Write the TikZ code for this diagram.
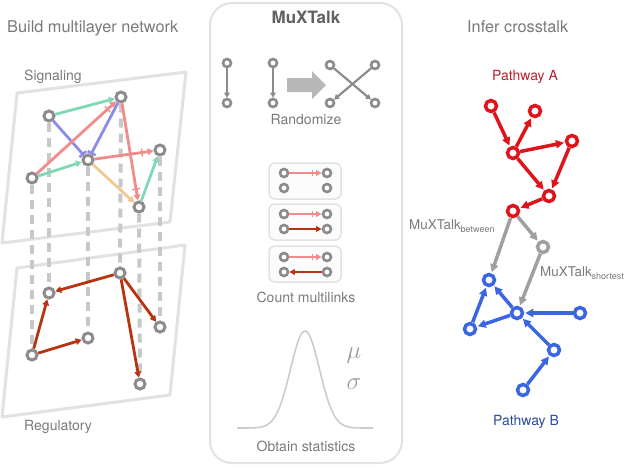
\documentclass[tikz,border=0pt]{standalone}
\usepackage{fontspec}
\setmainfont{TeX Gyre Heros}
\usetikzlibrary{arrows.meta}
\definecolor{txtgray}{HTML}{7A7A7A}
\definecolor{ngray}{HTML}{8C8C8C}
\definecolor{plane}{HTML}{E2E2E2}
\definecolor{dashgray}{HTML}{C8C8C8}
\definecolor{sgreen}{HTML}{80D8B4}
\definecolor{sblue}{HTML}{8C8CE8}
\definecolor{spink}{HTML}{F08C8C}
\definecolor{sorange}{HTML}{F5C892}
\definecolor{regred}{HTML}{B8330F}
\definecolor{pred}{HTML}{E0121A}
\definecolor{pblue}{HTML}{3A66E0}
\definecolor{predtxt}{HTML}{B8222E}
\definecolor{pbluetxt}{HTML}{2A4C9E}
\definecolor{cgray}{HTML}{A0A0A0}
\begin{document}
\begin{tikzpicture}[x=1pt,y=-1pt,
  gnode/.style={circle,draw=ngray,line width=3pt,fill=white,minimum size=10pt,inner sep=0pt},
  snode/.style={circle,draw=ngray,line width=2.6pt,fill=white,minimum size=8pt,inner sep=0pt},
  rnode/.style={circle,draw=pred,line width=3.5pt,fill=white,minimum size=11pt,inner sep=0pt},
  bnode/.style={circle,draw=pblue,line width=3.5pt,fill=white,minimum size=11pt,inner sep=0pt},
  xnode/.style={circle,draw=cgray,line width=3.5pt,fill=white,minimum size=11pt,inner sep=0pt},
  vlink/.style={draw=dashgray,line width=4pt,dash pattern=on 9pt off 6pt},
  act/.style={line width=2.8pt,-{Triangle[length=6pt,width=6.5pt]}},
  inh/.style={line width=2.8pt,-{Bar[width=9pt,line width=2.5pt]}},
  pk/.style={draw=spink,line width=2.8pt,-{Bar[width=8pt,line width=1.4pt,sep=5pt]Triangle[length=6pt,width=6.5pt]}},
  reg/.style={draw=regred,line width=2.8pt,-{Triangle[length=6pt,width=6.5pt]}},
  big/.style={line width=3.5pt,shorten >=1pt,-{Triangle[length=8pt,width=8pt]}},
  lbl/.style={text=txtgray,font=\fontsize{14}{16}\selectfont,inner sep=0pt},
  ttl/.style={text=txtgray,font=\fontsize{16.3}{18}\selectfont,inner sep=0pt},
  plane/.style={draw=plane,line width=3pt,line join=round},
  mbox/.style={draw=plane,line width=1.5pt,fill=black!1,rounded corners=6pt},
  sarr/.style={draw=ngray,fill=ngray,line width=2.2pt,-{Triangle[length=5pt,width=5.5pt]}},
  mpk/.style={draw=spink,fill=spink,line width=2.4pt,-{Bar[width=6pt,line width=1pt,sep=3pt]Triangle[length=5.5pt,width=5.5pt]}},
  mrg/.style={draw=regred,fill=regred,line width=2.4pt,-{Triangle[length=5.5pt,width=5.5pt]}}
]
\useasboundingbox (0,0) rectangle (630,467);

% ---------- titles ----------
\node[ttl,anchor=base west] (t1) at (7,32) {Build multilayer network};
\node[ttl,anchor=base west] (t3) at (467,32) {Infer crosstalk};

% ---------- left panel: planes ----------
\draw[plane] (17,93) -- (186,72) -- (170,222) -- (2,243) -- cycle;
\draw[plane] (17,268) -- (185,245) -- (170,395) -- (2,417) -- cycle;
\node[lbl,anchor=base west] (sig) at (24,80) {Signaling};
\node[lbl,anchor=base west] (regl) at (24,430) {Regulatory};

% signaling nodes
\node[gnode] (n1) at (49,116) {};
\node[gnode] (n2) at (121,97) {};
\node[gnode] (n3) at (88,160) {};
\node[gnode] (n4) at (160,150) {};
\node[gnode] (n5) at (32,178) {};
\node[gnode] (n6) at (139,207) {};
% regulatory nodes
\node[gnode] (r1) at (49,293) {};
\node[gnode] (r2) at (120,273) {};
\node[gnode] (r3) at (88,338) {};
\node[gnode] (r4) at (160,327) {};
\node[gnode] (r5) at (32,355) {};
\node[gnode] (r6) at (140,384) {};

% inter-layer links
\draw[vlink] (n1) -- (r1);
\draw[vlink] (n2) -- (r2);
\draw[vlink] (n3) -- (r3);
\draw[vlink] (n4) -- (r4);
\draw[vlink] (n5) -- (r5);
\draw[vlink] (n6) -- (r6);

% signaling edges
\draw[act,draw=sgreen,fill=sgreen] (n1) -- (n2);
\draw[inh,draw=sblue] (n1) -- (n3);
\draw[inh,draw=sblue] (n2) -- (n3);
\draw[pk,fill=spink] (n5) -- (n2);
\draw[act,draw=sgreen,fill=sgreen] (n5) -- (n3);
\draw[pk,fill=spink] (n3) -- (n4);
\draw[pk,fill=spink] (n2) -- (n6);
\draw[act,draw=sorange,fill=sorange] (n3) -- (n6);
\draw[act,draw=sgreen,fill=sgreen] (n6) -- (n4);

% regulatory edges
\draw[reg,fill=regred] (r2) -- (r1);
\draw[reg,fill=regred] (r5) -- (r1);
\draw[reg,fill=regred] (r5) -- (r3);
\draw[reg,fill=regred] (r2) -- (r6);
\draw[reg,fill=regred] (r2) -- (r4);

% ---------- centre panel ----------
\draw[draw=plane,line width=2pt,rounded corners=22pt] (210,3) rectangle (402,463);
\node[text=black!62,font=\bfseries\fontsize{17}{19}\selectfont,anchor=base,inner sep=0pt] (mx) at (306,23) {MuXTalk};

% randomize
\node[snode] (a1) at (227,63) {};
\node[snode] (a2) at (227,103) {};
\node[snode] (a3) at (273,63) {};
\node[snode] (a4) at (273,103) {};
\draw[sarr] (a1) -- (a2);
\draw[sarr] (a3) -- (a4);
\fill[black!28] (287,78) -- (312,78) -- (312,71) -- (326,85) -- (312,99) -- (312,92) -- (287,92) -- cycle;
\node[snode] (x1) at (330,65) {};
\node[snode] (x2) at (375,65) {};
\node[snode] (x3) at (330,103) {};
\node[snode] (x4) at (375,103) {};
\draw[sarr] (x1) -- (x4);
\draw[sarr] (x2) -- (x3);
\node[lbl,anchor=base] (rnd) at (306,124) {Randomize};

% count multilinks
\draw[mbox] (269,163) rectangle (341,199);
\draw[mbox] (269,204) rectangle (341,240);
\draw[mbox] (269,246) rectangle (341,282);
\node[snode] (c1) at (284,173) {};
\node[snode] (c2) at (327,173) {};
\node[snode] (c3) at (284,188) {};
\node[snode] (c4) at (327,188) {};
\node[snode] (c5) at (284,214) {};
\node[snode] (c6) at (327,214) {};
\node[snode] (c7) at (284,229) {};
\node[snode] (c8) at (327,229) {};
\node[snode] (c9) at (284,257) {};
\node[snode] (c10) at (327,257) {};
\node[snode] (c11) at (284,272) {};
\node[snode] (c12) at (327,272) {};
\draw[mpk] (c1) -- (c2);
\draw[mpk] (c5) -- (c6);
\draw[mrg] (c7) -- (c8);
\draw[mpk] (c9) -- (c10);
\draw[mrg] (c12) -- (c11);
\node[lbl,anchor=base] (cml) at (306,302) {Count multilinks};

% statistics
\draw[draw=black!20,line width=1.6pt] plot[domain=-68:68,samples=120,smooth] ({305+\x},{428-97*exp(-(\x/14.5)^2/2)});
\node[text=black!38,font=\fontsize{29}{30}\selectfont,inner sep=0pt] (mu) at (354,356) {$\mu$};
\node[text=black!38,font=\fontsize{29}{30}\selectfont,inner sep=0pt] (sg) at (354,384) {$\sigma$};
\node[lbl,anchor=base] (obs) at (306,451) {Obtain statistics};

% ---------- right panel ----------
\node[lbl,anchor=base,text=predtxt] (pa) at (525,80) {Pathway A};
\node[lbl,anchor=base,text=pbluetxt] (pb) at (526,425) {Pathway B};

\node[rnode] (p1) at (491,106) {};
\node[rnode] (p2) at (535,111) {};
\node[rnode] (p3) at (513,153) {};
\node[rnode] (p4) at (572,141) {};
\node[rnode] (p5) at (549,196) {};
\node[rnode] (p6) at (513,211) {};

\node[xnode] (g1) at (543,247) {};

\node[bnode] (b1) at (489,280) {};
\node[bnode] (b2) at (517,313) {};
\node[bnode] (b3) at (470,329) {};
\node[bnode] (b4) at (580,313) {};
\node[bnode] (b5) at (554,350) {};
\node[bnode] (b6) at (523,390) {};

\draw[big,draw=pred,fill=pred] (p1) -- (p3);
\draw[big,draw=pred,fill=pred] (p3) -- (p2);
\draw[big,draw=pred,fill=pred] (p3) -- (p4);
\draw[big,draw=pred,fill=pred] (p3) -- (p5);
\draw[big,draw=pred,fill=pred] (p4) -- (p5);
\draw[big,draw=pred,fill=pred] (p5) -- (p6);

\draw[big,draw=cgray,fill=cgray] (p6) -- (g1);
\draw[big,draw=cgray,fill=cgray] (p6) -- (b1);
\draw[big,draw=cgray,fill=cgray] (g1) -- (b2);

\draw[big,draw=pblue,fill=pblue] (b2) -- (b1);
\draw[big,draw=pblue,fill=pblue] (b2) -- (b3);
\draw[big,draw=pblue,fill=pblue] (b3) -- (b1);
\draw[big,draw=pblue,fill=pblue] (b4) -- (b2);
\draw[big,draw=pblue,fill=pblue] (b5) -- (b2);
\draw[big,draw=pblue,fill=pblue] (b6) -- (b5);

\node[text=txtgray,font=\fontsize{13.4}{15}\selectfont,anchor=base west,inner sep=0pt] (mb) at (409,229) {MuXTalk\raisebox{-3pt}{\fontsize{9}{10}\selectfont between}};
\node[text=txtgray,font=\fontsize{13.4}{15}\selectfont,anchor=base west,inner sep=0pt] (ms) at (540,276) {MuXTalk\raisebox{-3pt}{\fontsize{9}{10}\selectfont shortest}};
\end{tikzpicture}
\end{document}
